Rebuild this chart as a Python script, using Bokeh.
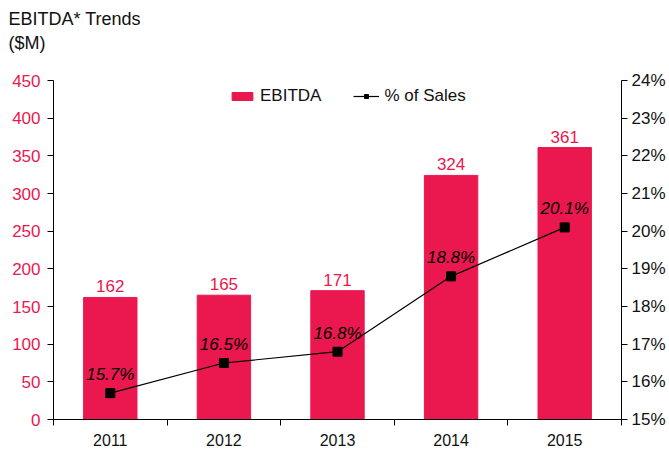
from bokeh.plotting import figure
from bokeh.models import (ColumnDataSource, Range1d, LinearAxis, FixedTicker,
                          PrintfTickFormatter, LabelSet, Legend, LegendItem, Title)
from bokeh.core.properties import value
from bokeh.embed import file_html
from bokeh.resources import INLINE

years = ["2011", "2012", "2013", "2014", "2015"]
ebitda = [162, 165, 171, 324, 361]
pct_sales = [15.7, 16.5, 16.8, 18.8, 20.1]
left_ticks = [0, 50, 100, 150, 200, 250, 300, 350, 400, 450]
right_ticks = [15, 16, 17, 18, 19, 20, 21, 22, 23, 24]

RED = "#EA184E"
FONT = "Liberation Sans"

xs = [i + 1 for i in range(len(years))]
src = ColumnDataSource(dict(
    x=xs, ebitda=ebitda, pct=pct_sales,
    elabel=[str(v) for v in ebitda],
    plabel=[f"{v:.1f}%" for v in pct_sales],
))

p = figure(width=669, height=449, output_backend="svg", toolbar_location=None,
           x_range=Range1d(0.5, len(years) + 0.5),
           y_range=Range1d(left_ticks[0], left_ticks[-1]),
           min_border_left=53, min_border_right=48, min_border_top=80,
           min_border_bottom=30, title=None)
p.extra_y_ranges = {"pct": Range1d(right_ticks[0], right_ticks[-1])}
p.outline_line_color = None
p.xgrid.visible = False
p.ygrid.visible = False
p.background_fill_color = "white"
p.border_fill_color = "white"

# spacer between the frame and the title lines
p.add_layout(Title(text=" ", align="left", offset=-45, text_font=FONT,
                   text_font_size="18px", standoff=6), "above")
p.add_layout(Title(text="($M)", align="left", offset=-45,
                   text_font=FONT, text_font_size="18px", text_font_style="normal",
                   text_color="#111111", standoff=0), "above")
p.add_layout(Title(text="EBITDA* Trends", align="left", offset=-45,
                   text_font=FONT, text_font_size="18px", text_font_style="normal",
                   text_color="#111111", standoff=3), "above")

bars = p.vbar(x="x", top="ebitda", width=0.47, source=src, color=RED,
              line_color=RED)
line = p.line(x="x", y="pct", source=src, y_range_name="pct",
              line_color="black", line_width=1.2)
pts = p.scatter(x="x", y="pct", source=src, y_range_name="pct",
                marker="square", size=9, fill_color="black", line_color="black")

# axes
xa = p.xaxis[0]
xa.ticker = FixedTicker(ticks=xs, minor_ticks=[x - 0.5 for x in xs] + [xs[-1] + 0.5])
xa.major_label_overrides = {x: y for x, y in zip(xs, years)}
xa.major_tick_line_color = None
xa.minor_tick_out = 6
xa.minor_tick_in = 0
xa.minor_tick_line_color = "black"
xa.axis_line_color = "black"
xa.major_label_text_font = FONT
xa.major_label_text_font_size = "16px"
xa.major_label_text_color = "#111111"
xa.major_label_standoff = 8

ya = p.yaxis[0]
ya.ticker = FixedTicker(ticks=left_ticks)
ya.minor_tick_line_color = None
ya.major_tick_out = 6
ya.major_tick_in = 0
ya.major_label_text_font = FONT
ya.major_label_text_font_size = "17px"
ya.major_label_text_color = RED
ya.major_label_standoff = 7
ya.axis_line_color = "black"

ra = LinearAxis(y_range_name="pct", ticker=FixedTicker(ticks=right_ticks),
                formatter=PrintfTickFormatter(format="%d%%"))
ra.minor_tick_line_color = None
ra.major_tick_out = 6
ra.major_tick_in = 0
ra.major_label_text_font = FONT
ra.major_label_text_font_size = "17px"
ra.major_label_text_color = "#111111"
ra.major_label_standoff = 4
ra.axis_line_color = "black"
p.add_layout(ra, "right")

# labels
p.add_layout(LabelSet(x="x", y="ebitda", text="elabel", source=src,
                      y_offset=5, text_align="center", text_baseline="bottom",
                      text_font=value(FONT), text_font_size=value("17px"),
                      text_color=RED))
p.add_layout(LabelSet(x="x", y="pct", text="plabel", source=src,
                      y_range_name="pct", y_offset=9, text_align="center",
                      text_baseline="bottom", text_font=value(FONT),
                      text_font_size=value("17px"), text_font_style="italic",
                      text_color="black"))

legend = Legend(items=[LegendItem(label="EBITDA", renderers=[bars]),
                       LegendItem(label="% of Sales", renderers=[line, pts])],
                orientation="horizontal", location=(176, 313),
                border_line_color=None, background_fill_alpha=0,
                label_text_font=FONT, label_text_font_size="17px",
                label_text_color="#111111", spacing=32, glyph_width=26,
                glyph_height=10, label_standoff=5, padding=2, margin=0)
p.add_layout(legend)

open("out.html", "w").write(file_html(p, INLINE))
